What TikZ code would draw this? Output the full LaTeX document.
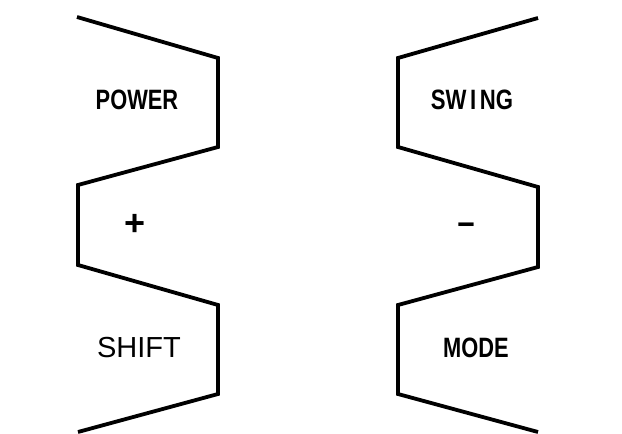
\documentclass[tikz,border=0pt]{standalone}
\usepackage{fontspec}
\setmainfont{Liberation Sans}
\begin{document}
\begin{tikzpicture}[x=1pt,y=-1pt,
  outline/.style={line width=3.8pt,black},
  narrowlabel/.style={inner sep=0pt,font=\fontsize{28}{30}\selectfont\bfseries},
  plainlabel/.style={inner sep=0pt,font=\fontsize{29}{31}\selectfont}]
\useasboundingbox (0,0) rectangle (622,434);
% left zigzag
\draw[outline] (77,17) -- (218,58) -- (218,147) -- (78,185) -- (78,265)
  -- (218,305) -- (218,394) -- (78,432);
% right zigzag
\draw[outline] (538,18) -- (398,58) -- (398,147) -- (538,187) -- (538,267)
  -- (398,305) -- (398,394) -- (538,432);
\node[narrowlabel] (power) at (137,100) {\scalebox{0.78}[1]{POWER}};
\node[narrowlabel] (swing) at (472,100) {\scalebox{0.79}[1]{SW\,I\,NG}};
\node[narrowlabel] (mode) at (476,348) {\scalebox{0.78}[1]{MODE}};
\node[plainlabel] (shift) at (139,348) {SHIFT};
\node[inner sep=0pt,font=\fontsize{36}{40}\selectfont\bfseries] (plus) at (135,225) {+};
\node[inner sep=0pt,font=\fontsize{30}{32}\selectfont\bfseries] (minus) at (466,228) {\scalebox{2}[1]{-}};
\end{tikzpicture}
\end{document}
